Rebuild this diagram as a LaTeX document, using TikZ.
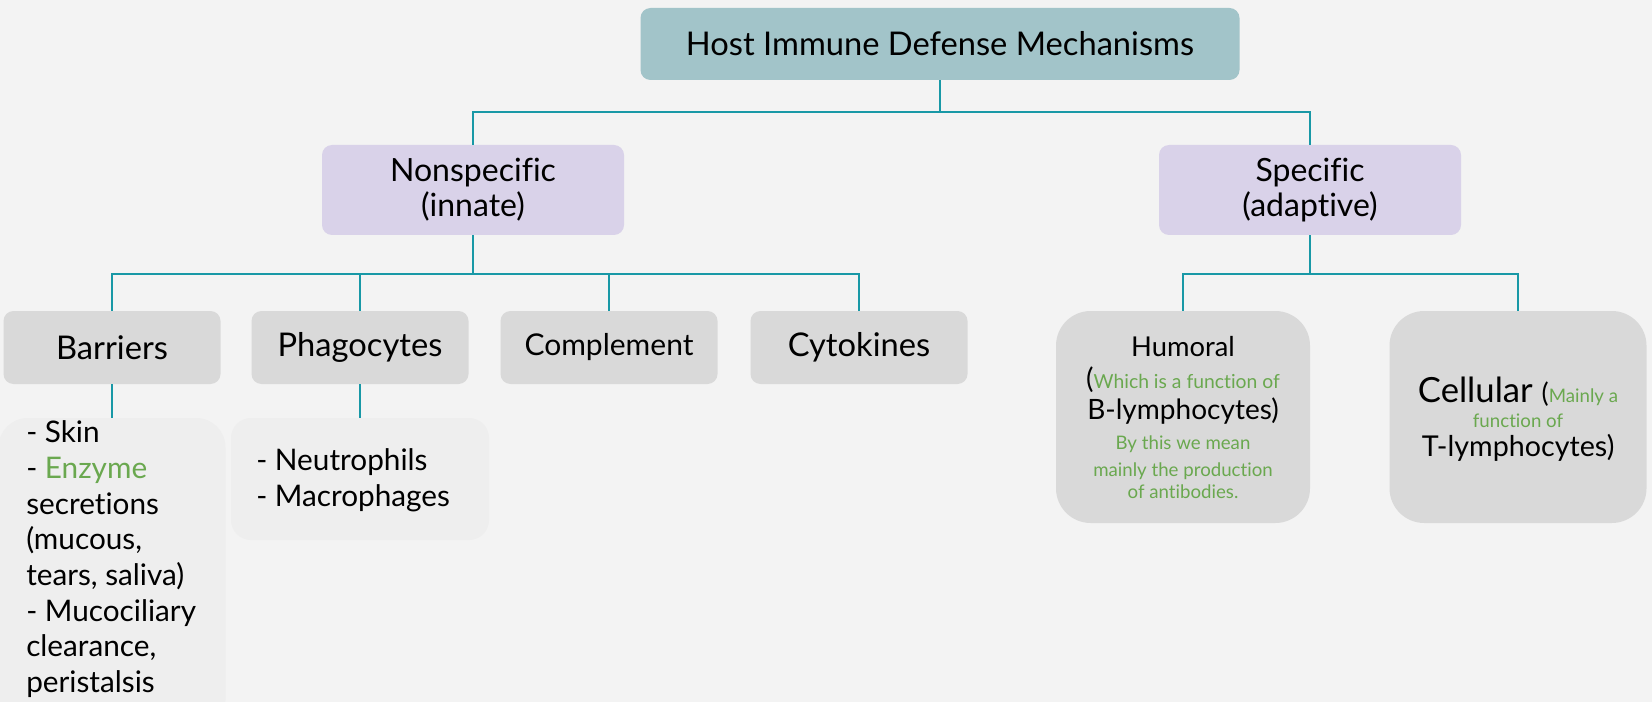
\documentclass[tikz,border=0pt]{standalone}
\usepackage{fontspec}
\setmainfont[Ligatures={NoCommon}]{Lato}
\definecolor{bg}{RGB}{243,243,243}
\definecolor{rootfill}{RGB}{162,196,201}
\definecolor{lav}{RGB}{217,210,233}
\definecolor{greybox}{RGB}{217,217,217}
\definecolor{detail}{RGB}{238,238,238}
\definecolor{teal}{RGB}{24,152,166}
\definecolor{grn}{RGB}{106,168,79}
\newcommand{\fs}[2]{\fontsize{#1}{#2}\selectfont}
\begin{document}
\begin{tikzpicture}[x=0.75pt,y=-0.75pt,
  conn/.style={draw=teal,line width=1.5pt},
  box/.style={rectangle,rounded corners=7.5pt,inner sep=0pt,align=center,text=black},
  rootbox/.style={box,fill=rootfill,minimum width=449.25pt,minimum height=54pt,font=\fs{24.5}{28}},
  catbox/.style={box,fill=lav,minimum width=226.5pt,minimum height=67.5pt,font=\fs{24}{26}},
  leafbox/.style={box,fill=greybox,minimum width=162.75pt,minimum height=54.75pt,font=\fs{24.5}{28}},
  bigbox/.style={box,fill=greybox,rounded corners=26pt,minimum height=159pt},
  detbox/.style={box,fill=detail},
  txt/.style={anchor=base,inner sep=0pt},
  ltxt/.style={anchor=base west,inner sep=0pt,align=left}
]
\fill[bg] (0,0) rectangle (1652,702);
\useasboundingbox (0,0) rectangle (1652,702);

% level 1
\node[rootbox] (root) at (940,44) {Host Immune Defense Mechanisms};
% level 2
\node[catbox] (nonspec) at (473,190) {Nonspecific\\(innate)};
\node[catbox] (spec) at (1310,190) {Specific\\(adaptive)};
% level 3
\node[leafbox] (barr) at (112,347.5) {Barriers};
\node[leafbox] (phag) at (360,347.5) {Phagocytes};
\node[leafbox,font=\fs{22.5}{26}] (comp) at (609,347.5) {Complement};
\node[leafbox] (cyto) at (859,347.5) {Cytokines};
\node[bigbox,minimum width=190.5pt] (hum) at (1183,417) {};
\node[bigbox,minimum width=192.75pt] (cell) at (1518,417) {};
% detail boxes
\node[detbox,rounded corners=22pt,minimum width=170.25pt,minimum height=234pt] (bdet) at (112,574) {};
\node[detbox,rounded corners=15pt,minimum width=193.5pt,minimum height=91.5pt] (pdet) at (360,479) {};

% connectors
\coordinate (j1) at (940,112);
\coordinate (j2) at (473,274);
\coordinate (j3) at (1310,274);
\draw[conn] (root.south) -- (j1) -| (nonspec.north);
\draw[conn] (j1) -| (spec.north);
\draw[conn] (nonspec.south) -- (j2) -| (barr.north);
\draw[conn] (j2) -| (phag.north);
\draw[conn] (j2) -| (comp.north);
\draw[conn] (j2) -| (cyto.north);
\draw[conn] (spec.south) -- (j3) -| (hum.north);
\draw[conn] (j3) -| (cell.north);
\draw[conn] (barr.south) -- (bdet.north);
\draw[conn] (phag.south) -- (pdet.north);

% barrier details
\begin{scope}[font=\fs{22.3}{27}]
\node[ltxt] (b1) at (26,442) {- Skin};
\node[ltxt] (b2) at (26,478) {- \textcolor{grn}{Enzyme}};
\node[ltxt] (b3) at (26,514) {secretions};
\node[ltxt] (b4) at (26,549) {(mucous,};
\node[ltxt] (b5) at (26,585) {tears, saliva)};
\node[ltxt] (b6) at (26,621) {- Mucociliary};
\node[ltxt] (b7) at (26,656) {clearance,};
\node[ltxt] (b8) at (26,692) {peristalsis};
\node[ltxt] (p1) at (256,470) {- Neutrophils};
\node[ltxt] (p2) at (256,506) {- Macrophages};
\end{scope}

% humoral
\node[txt,font=\fs{20.5}{24}] (h1) at (1183,356) {Humoral};
\node[txt] (h2) at (1183,388) {{\fs{21}{24}(}{\fs{14.5}{17}\color{grn}Which is a function of}};
\node[txt,font=\fs{21}{24}] (h3) at (1183,419) {B-lymphocytes)};
\begin{scope}[font=\fs{14}{17},text=grn]
\node[txt] (h4) at (1183,449) {By this we mean};
\node[txt] (h5) at (1183,476) {mainly the production};
\node[txt] (h6) at (1183,498) {of antibodies.};
\end{scope}

% cellular
\node[txt] (c1) at (1518,402) {{\fs{26}{30}Cellular\ }{\fs{20}{24}(}{\fs{14}{17}\color{grn}Mainly a}};
\node[txt,font=\fs{14}{17},text=grn] (c2) at (1518,427) {function of};
\node[txt,font=\fs{21.5}{25}] (c3) at (1518,456) {T-lymphocytes)};
\end{tikzpicture}
\end{document}
